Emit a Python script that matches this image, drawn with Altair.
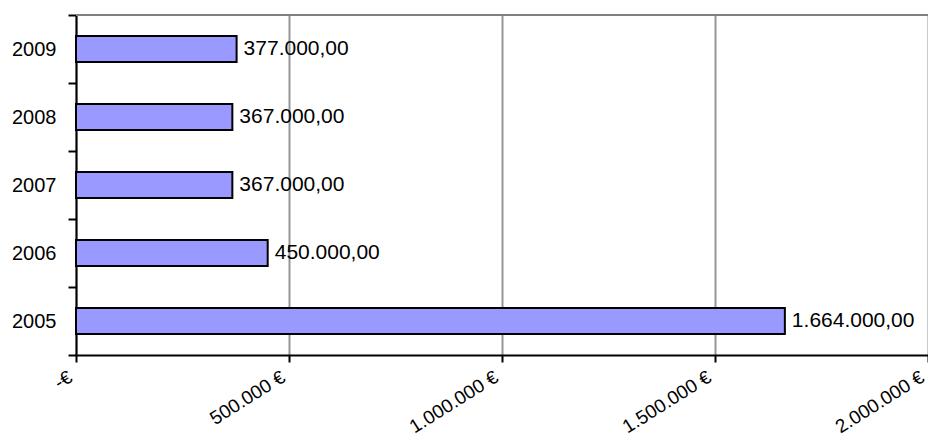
import altair as alt
import pandas as pd

years = ["2005", "2006", "2007", "2008", "2009"]
amounts = [1664000, 450000, 367000, 367000, 377000]
x_tick_values = [0, 500000, 1000000, 1500000, 2000000]
x_tick_labels = ["-€", "500.000 €", "1.000.000 €", "1.500.000 €", "2.000.000 €"]


def de_fmt(v):
    s = f"{v:,.2f}"
    return s.replace(",", "X").replace(".", ",").replace("X", ".")


df = pd.DataFrame({"year": years, "amount": amounts,
                   "label": [de_fmt(v) for v in amounts]})

label_expr = "''"
for v, t in reversed(list(zip(x_tick_values, x_tick_labels))):
    label_expr = f"datum.value == {v} ? '{t}' : ({label_expr})"

W, H = 852, 340
FONT = "Liberation Sans"

x_enc = alt.X(
    "amount:Q",
    scale=alt.Scale(domain=[0, 2000000], nice=False, zero=True),
    axis=alt.Axis(
        values=x_tick_values,
        labelExpr=label_expr,
        title=None,
        labelAngle=328,
        labelAlign="right",
        labelBaseline="middle",
        labelPadding=13,
        labelOffset=-6,
        labelFont=FONT,
        labelFontSize=19,
        labelColor="black",
        tickSize=7,
        tickColor="black",
        tickWidth=2,
        domainColor="black",
        domainWidth=2,
        grid=True,
        gridColor="#969696",
        gridWidth=2,
        labelOverlap=False,
        labelFlush=False,
    ),
)

y_sort = years[::-1]

y_enc = alt.Y(
    "year:N",
    sort=y_sort,
    scale=alt.Scale(paddingInner=0, paddingOuter=0),
    axis=alt.Axis(
        title=None,
        tickBand="extent",
        tickSize=8,
        tickColor="black",
        tickWidth=2,
        domainColor="black",
        domainWidth=2,
        labelPadding=12,
        labelFont=FONT,
        labelFontSize=20,
        labelColor="black",
        grid=False,
    ),
)

bars = alt.Chart(df).mark_bar(
    color="#9999FF", stroke="black", strokeWidth=2, height=26
).encode(x=x_enc, y=y_enc)

text = alt.Chart(df).mark_text(
    align="left", baseline="middle", dx=7, font=FONT, fontSize=21, color="black"
).encode(x="amount:Q", y=alt.Y("year:N", sort=y_sort), text="label:N")

top_border = alt.Chart(df).mark_rule(color="#808080", strokeWidth=2).encode(
    x=alt.value(0), x2=alt.value(W), y=alt.value(0)
)

chart = (
    alt.layer(bars, text, top_border)
    .properties(
        width=W,
        height=H,
        autosize=alt.AutoSizeParams(type="none"),
        padding={"left": 68, "top": 7, "right": 0, "bottom": 85},
    )
    .configure_view(fill="#C0C0C0", stroke=None)
    .configure(background="white")
)

chart.save("out.html", embed_options={"renderer": "svg", "actions": False})
